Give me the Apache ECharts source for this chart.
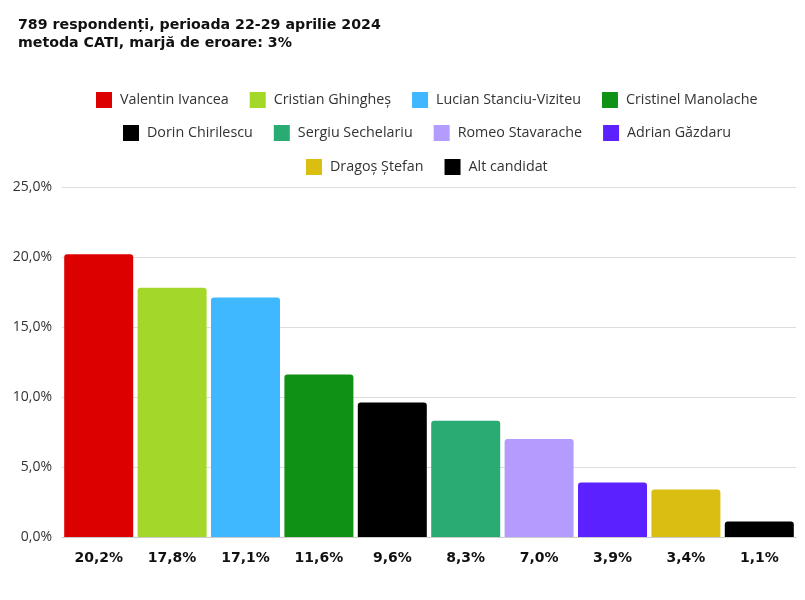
<!DOCTYPE html>
<html><head><meta charset="utf-8">
<script src="https://cdn.jsdelivr.net/npm/echarts@6/dist/echarts.min.js"></script>
<style>html,body{margin:0;padding:0;background:#fff}#c{width:805px;height:600px}</style>
</head><body><div id="c"></div>
<script>
const candidates = ["Valentin Ivancea","Cristian Ghingheș","Lucian Stanciu-Viziteu","Cristinel Manolache","Dorin Chirilescu","Sergiu Sechelariu","Romeo Stavarache","Adrian Găzdaru","Dragoș Ștefan","Alt candidat"];
const values = [20.2,17.8,17.1,11.6,9.6,8.3,7.0,3.9,3.4,1.1];
const colors = ["#dd0000","#a3d82a","#3fb8ff","#0f9213","#000000","#29ab73","#b49cff","#5b22ff","#dbbe12","#000000"];
const yTicks = [0,5,10,15,20,25];
const titleLines = ["789 respondenți, perioada 22-29 aprilie 2024","metoda CATI, marjă de eroare: 3%"];

const fmt = v => v.toFixed(1).replace('.', ',') + '%';
const series = candidates.map((name, i) => ({
  name, type: 'bar', barGap: '-100%', barCategoryGap: '6%',
  data: values.map((v, j) => j === i ? v : '-'),
  itemStyle: { color: colors[i], borderRadius: [3,3,0,0] }
}));
const LFONT = 14.3, ICON = 16, GAP = 21, LCENTER = 427;
const ctx = document.createElement('canvas').getContext('2d');
ctx.font = LFONT + 'px "Open Sans"';
function rowLeft(names) {
  let w = 0;
  names.forEach((n, i) => { w += ICON + 5 + 3 + ctx.measureText(n).width + (i ? GAP : 0); });
  return Math.round(LCENTER - w / 2) - 5;
}
const legendBase = { itemWidth: ICON, itemHeight: ICON, itemGap: GAP, icon: 'rect',
  textStyle: { fontFamily: 'Open Sans', fontSize: LFONT, color: '#333', padding: [0,0,0,3] } };
const rows = [candidates.slice(0,4), candidates.slice(4,8), candidates.slice(8)];
const rowTops = [87, 120, 154];
const chart = echarts.init(document.getElementById('c'));
chart.setOption({
  animation: false,
  title: { text: titleLines.join('\n'), left: 13, top: 11,
    textStyle: { fontFamily: 'DejaVu Sans', fontWeight: 'bold', fontSize: 14.2, color: '#111', lineHeight: 18 } },
  legend: rows.map((r, i) => Object.assign({}, legendBase, { top: rowTops[i], left: rowLeft(r), data: r })),
  grid: { left: 62, right: 9, top: 187, bottom: 63 },
  xAxis: { type: 'category', data: values.map(fmt),
    axisLine: { lineStyle: { color: '#ccc' } }, axisTick: { show: false },
    axisLabel: { fontFamily: 'DejaVu Sans', fontWeight: 'bold', fontSize: 14, color: '#111', margin: 14 } },
  yAxis: { type: 'value', min: yTicks[0], max: yTicks[yTicks.length-1], interval: 5,
    axisLabel: { formatter: v => fmt(v), fontFamily: 'Open Sans', fontSize: 14, color: '#333', margin: 10 },
    splitLine: { lineStyle: { color: '#ddd' } } },
  series
});
</script></body></html>
